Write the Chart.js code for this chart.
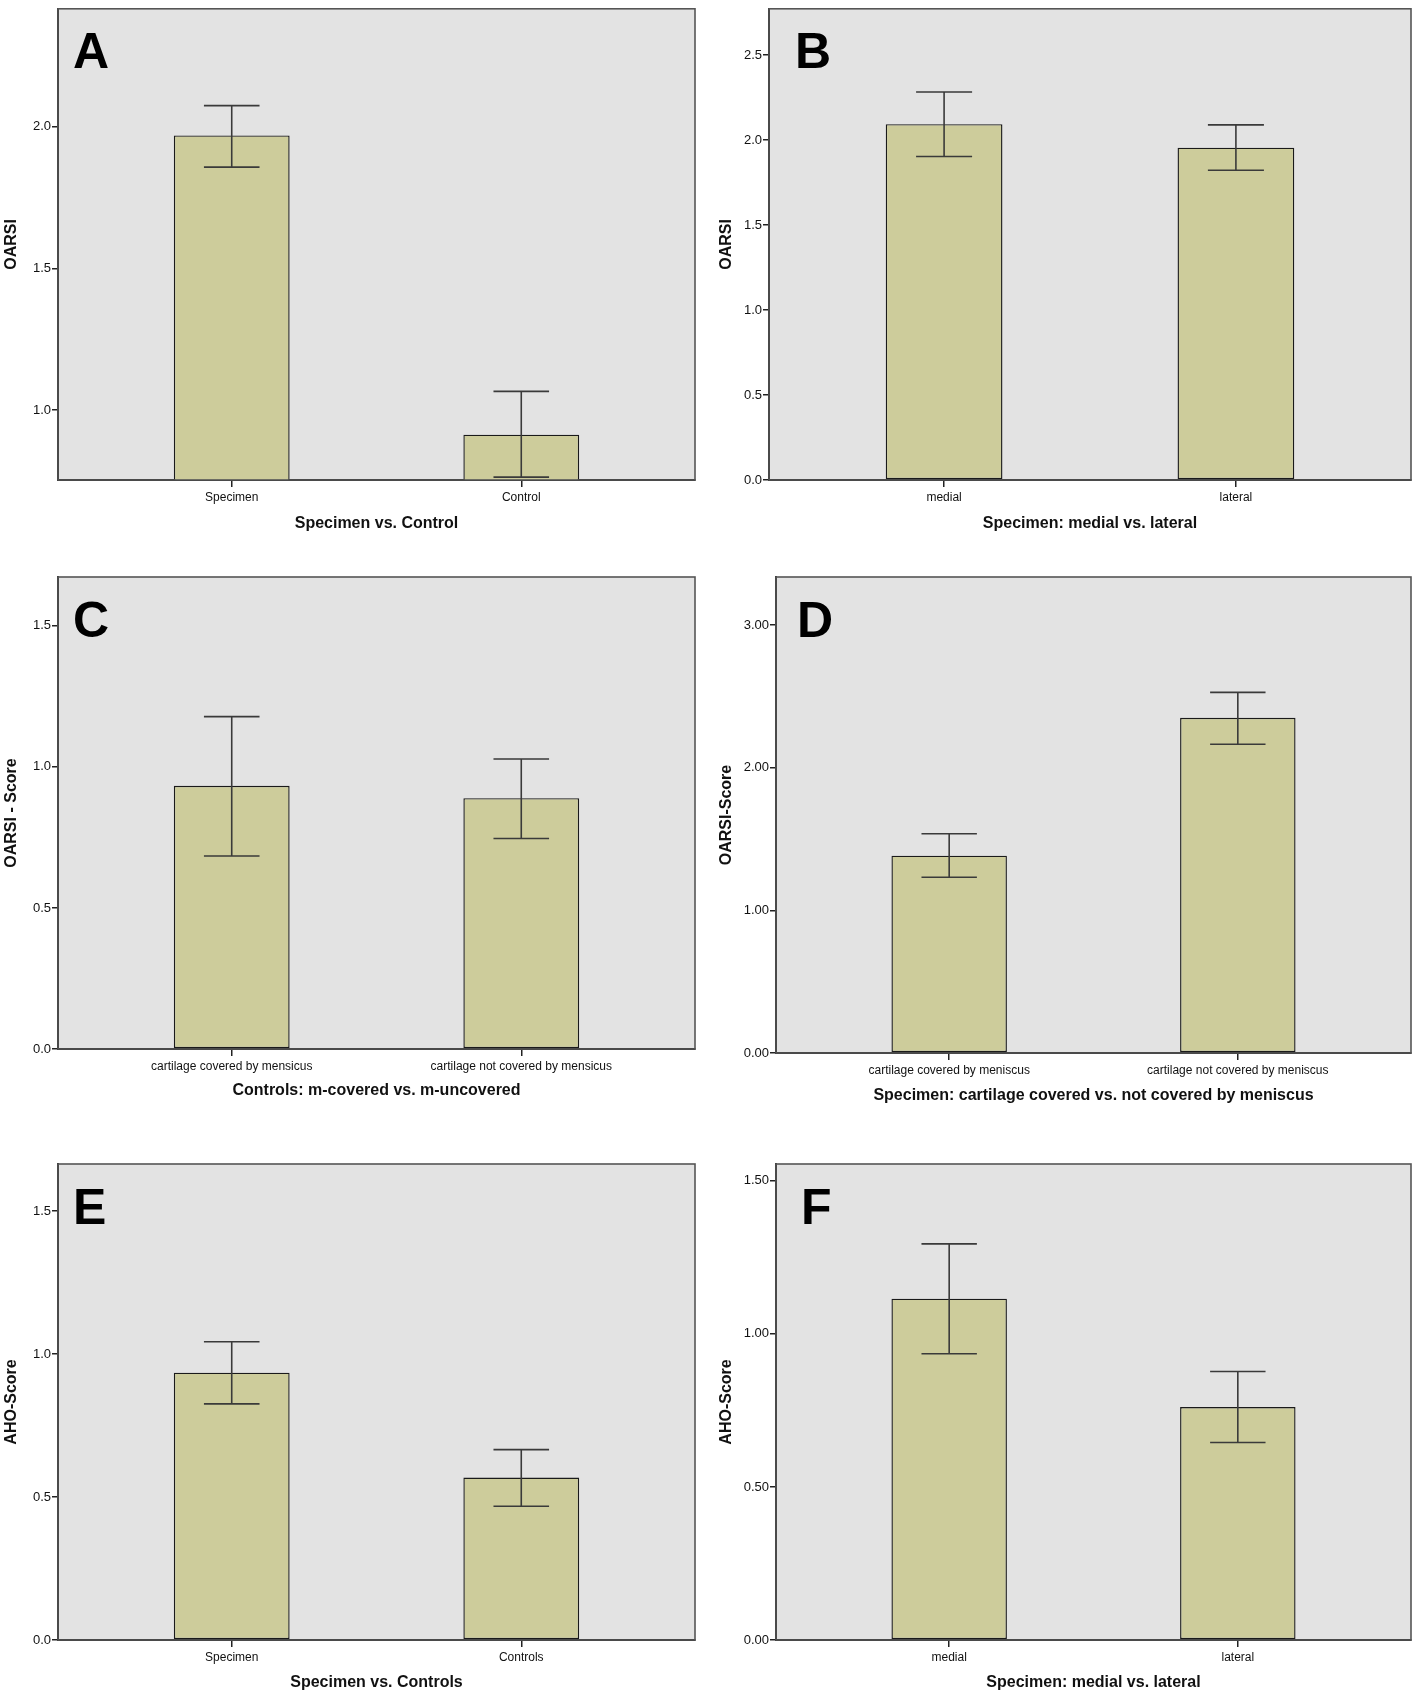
<!DOCTYPE html>
<html lang="en">
<head>
    <meta charset="UTF-8">
    <title>OARSI and AHO scores</title>
    <script src="https://cdn.jsdelivr.net/npm/chart.js"></script>
    <style>
        body {
            margin: 0;
            background: #fff;
        }
        #wrap {
            position: relative;
            width: 1418px;
            height: 1696px;
        }
        .panel {
            position: absolute;
        }
    </style>
</head>
<body>
    <div id="wrap">
        <div class="panel" id="pA"><canvas id="chartA"></canvas></div>
        <div class="panel" id="pB"><canvas id="chartB"></canvas></div>
        <div class="panel" id="pC"><canvas id="chartC"></canvas></div>
        <div class="panel" id="pD"><canvas id="chartD"></canvas></div>
        <div class="panel" id="pE"><canvas id="chartE"></canvas></div>
        <div class="panel" id="pF"><canvas id="chartF"></canvas></div>
    </div>

    <script>
        // Panel A - OARSI, specimen vs control
        const aCategories = ['Specimen', 'Control'];
        const aMeans = [1.97, 0.913];
        const aLower = [1.858, 0.763];
        const aUpper = [2.075, 1.066];
        const aTicks = [1.0, 1.5, 2.0];
        const aRange = [0.753, 2.417];

        // Panel B - OARSI, medial vs lateral
        const bCategories = ['medial', 'lateral'];
        const bMeans = [2.094, 1.956];
        const bLower = [1.904, 1.823];
        const bUpper = [2.283, 2.09];
        const bTicks = [0.0, 0.5, 1.0, 1.5, 2.0, 2.5];
        const bRange = [0, 2.773];

        // Panel C - OARSI score, controls
        const cCategories = ['cartilage covered by mensicus', 'cartilage not covered by mensicus'];
        const cMeans = [0.933, 0.889];
        const cLower = [0.684, 0.746];
        const cUpper = [1.178, 1.028];
        const cTicks = [0.0, 0.5, 1.0, 1.5];
        const cRange = [0, 1.673];

        // Panel D - OARSI score, specimen covered vs not covered
        const dCategories = ['cartilage covered by meniscus', 'cartilage not covered by meniscus'];
        const dMeans = [1.383, 2.35];
        const dLower = [1.232, 2.165];
        const dUpper = [1.537, 2.528];
        const dTicks = [0, 1, 2, 3];
        const dRange = [0, 3.337];

        // Panel E - AHO score, specimen vs controls
        const eCategories = ['Specimen', 'Controls'];
        const eMeans = [0.935, 0.568];
        const eLower = [0.826, 0.468];
        const eUpper = [1.043, 0.666];
        const eTicks = [0.0, 0.5, 1.0, 1.5];
        const eRange = [0, 1.665];

        // Panel F - AHO score, medial vs lateral
        const fCategories = ['medial', 'lateral'];
        const fMeans = [1.115, 0.761];
        const fLower = [0.935, 0.645];
        const fUpper = [1.294, 0.877];
        const fTicks = [0.0, 0.5, 1.0, 1.5];
        const fRange = [0, 1.555];

        const SANS = '"Liberation Sans", Arial, sans-serif';
        const BAR_FILL = '#cdcc9b';
        const PLOT_BG = '#e3e3e3';

        // box = [left, top, width, height], area = [left, top, right, bottom] in page pixels
        function makeChart(canvasId, panelId, spec) {
            const box = spec.box;
            const area = spec.area;
            const div = document.getElementById(panelId);
            div.style.left = box[0] + 'px';
            div.style.top = box[1] + 'px';
            div.style.width = box[2] + 'px';
            div.style.height = box[3] + 'px';

            const yWidth = area[0] - box[0];
            const xHeight = box[1] + box[3] - area[3];
            const lh = 16 * 1.2;
            const xTitlePad = (box[1] + box[3]) - spec.xTitleY - lh / 2;
            const yTitlePad = spec.yTitleX - box[0] - lh / 2;

            const points = spec.means.map((v, i) => ({ x: i, y: v }));

            const panelDecor = {
                id: 'panelDecor',
                beforeDraw(chart) {
                    const a = chart.chartArea;
                    const ctx = chart.ctx;
                    ctx.save();
                    ctx.fillStyle = PLOT_BG;
                    ctx.fillRect(a.left, a.top, a.right - a.left, a.bottom - a.top);
                    ctx.restore();
                },
                afterDatasetsDraw(chart) {
                    const a = chart.chartArea;
                    const ctx = chart.ctx;
                    const yScale = chart.scales.y;
                    const meta = chart.getDatasetMeta(0);
                    ctx.save();
                    ctx.beginPath();
                    ctx.rect(a.left, a.top, a.right - a.left, a.bottom - a.top);
                    ctx.clip();
                    ctx.strokeStyle = '#3a3a3a';
                    ctx.lineWidth = 1.6;
                    meta.data.forEach((bar, i) => {
                        const x = bar.x;
                        const half = bar.width * 0.24;
                        const yHi = yScale.getPixelForValue(spec.upper[i]);
                        const yLo = yScale.getPixelForValue(spec.lower[i]);
                        ctx.beginPath();
                        ctx.moveTo(x, yHi);
                        ctx.lineTo(x, yLo);
                        ctx.moveTo(x - half, yHi);
                        ctx.lineTo(x + half, yHi);
                        ctx.moveTo(x - half, yLo);
                        ctx.lineTo(x + half, yLo);
                        ctx.stroke();
                    });
                    ctx.restore();

                    // plot frame
                    ctx.save();
                    ctx.strokeStyle = '#555';
                    ctx.lineWidth = 1.6;
                    ctx.strokeRect(a.left, a.top, a.right - a.left, a.bottom - a.top);
                    ctx.restore();
                },
                afterDraw(chart) {
                    const a = chart.chartArea;
                    const ctx = chart.ctx;
                    ctx.save();
                    ctx.fillStyle = '#000';
                    ctx.font = 'bold 50px ' + SANS;
                    ctx.textBaseline = 'alphabetic';
                    ctx.fillText(spec.letter, a.left + spec.letterPos[0], a.top + spec.letterPos[1]);
                    ctx.restore();
                }
            };

            return new Chart(document.getElementById(canvasId), {
                type: 'bar',
                data: {
                    datasets: [{
                        data: points,
                        backgroundColor: BAR_FILL,
                        borderColor: '#1a1a1a',
                        borderWidth: 1.4,
                        borderSkipped: false,
                        barPercentage: 0.4,
                        categoryPercentage: 1
                    }]
                },
                options: {
                    responsive: true,
                    maintainAspectRatio: false,
                    animation: false,
                    layout: {
                        padding: {
                            top: area[1] - box[1],
                            right: box[0] + box[2] - area[2],
                            left: 0,
                            bottom: 0
                        }
                    },
                    plugins: {
                        legend: { display: false },
                        tooltip: { enabled: false }
                    },
                    scales: {
                        x: {
                            type: 'linear',
                            offset: false,
                            min: -0.6,
                            max: 1.6,
                            afterBuildTicks: s => { s.ticks = spec.categories.map((c, i) => ({ value: i })); },
                            afterFit: s => { s.height = xHeight; },
                            ticks: {
                                autoSkip: false,
                                maxRotation: 0,
                                padding: 3,
                                color: '#111',
                                font: { family: SANS, size: 12 },
                                callback: v => spec.categories[v]
                            },
                            grid: {
                                offset: false,
                                drawOnChartArea: false,
                                drawTicks: true,
                                tickLength: 7,
                                color: '#222',
                                lineWidth: 1.5
                            },
                            border: { display: true, color: '#222', width: 2 },
                            title: {
                                display: true,
                                text: spec.xTitle,
                                color: '#111',
                                font: { family: SANS, size: 16, weight: 'bold' },
                                padding: { top: 0, bottom: xTitlePad }
                            }
                        },
                        y: {
                            type: 'linear',
                            min: spec.range[0],
                            max: spec.range[1],
                            afterBuildTicks: s => { s.ticks = spec.ticks.map(v => ({ value: v })); },
                            afterFit: s => { s.width = yWidth; },
                            ticks: {
                                padding: 1,
                                color: '#111',
                                font: { family: SANS, size: 13 },
                                callback: v => Number(v).toFixed(spec.decimals)
                            },
                            grid: {
                                drawOnChartArea: false,
                                drawTicks: true,
                                tickLength: 6,
                                color: '#222',
                                lineWidth: 1.5
                            },
                            border: { display: true, color: '#222', width: 2 },
                            title: {
                                display: true,
                                text: spec.yTitle,
                                color: '#111',
                                font: { family: SANS, size: 16, weight: 'bold' },
                                padding: { top: yTitlePad, bottom: 0 }
                            }
                        }
                    }
                },
                plugins: [panelDecor]
            });
        }

        makeChart('chartA', 'pA', {
            box: [0, 0, 709, 545], area: [58, 4, 695, 480],
            xTitleY: 524, yTitleX: 12, letter: 'A', letterPos: [15, 59],
            categories: aCategories, means: aMeans, lower: aLower, upper: aUpper,
            ticks: aTicks, range: aRange, decimals: 1,
            xTitle: 'Specimen vs. Control', yTitle: 'OARSI'
        });
        makeChart('chartB', 'pB', {
            box: [709, 0, 709, 545], area: [769, 4, 1411, 480],
            xTitleY: 524, yTitleX: 727, letter: 'B', letterPos: [26, 59],
            categories: bCategories, means: bMeans, lower: bLower, upper: bUpper,
            ticks: bTicks, range: bRange, decimals: 1,
            xTitle: 'Specimen: medial vs. lateral', yTitle: 'OARSI'
        });
        makeChart('chartC', 'pC', {
            box: [0, 545, 709, 565], area: [58, 577, 695, 1049],
            xTitleY: 1091, yTitleX: 12, letter: 'C', letterPos: [15, 60],
            categories: cCategories, means: cMeans, lower: cLower, upper: cUpper,
            ticks: cTicks, range: cRange, decimals: 1,
            xTitle: 'Controls: m-covered vs. m-uncovered', yTitle: 'OARSI - Score'
        });
        makeChart('chartD', 'pD', {
            box: [709, 545, 709, 565], area: [776, 577, 1411, 1053],
            xTitleY: 1096, yTitleX: 727, letter: 'D', letterPos: [21, 60],
            categories: dCategories, means: dMeans, lower: dLower, upper: dUpper,
            ticks: dTicks, range: dRange, decimals: 2,
            xTitle: 'Specimen: cartilage covered vs. not covered by meniscus', yTitle: 'OARSI-Score'
        });
        makeChart('chartE', 'pE', {
            box: [0, 1110, 709, 586], area: [58, 1164, 695, 1640],
            xTitleY: 1683, yTitleX: 12, letter: 'E', letterPos: [15, 60],
            categories: eCategories, means: eMeans, lower: eLower, upper: eUpper,
            ticks: eTicks, range: eRange, decimals: 1,
            xTitle: 'Specimen vs. Controls', yTitle: 'AHO-Score'
        });
        makeChart('chartF', 'pF', {
            box: [709, 1110, 709, 586], area: [776, 1164, 1411, 1640],
            xTitleY: 1683, yTitleX: 727, letter: 'F', letterPos: [25, 60],
            categories: fCategories, means: fMeans, lower: fLower, upper: fUpper,
            ticks: fTicks, range: fRange, decimals: 2,
            xTitle: 'Specimen: medial vs. lateral', yTitle: 'AHO-Score'
        });
    </script>
</body>
</html>
